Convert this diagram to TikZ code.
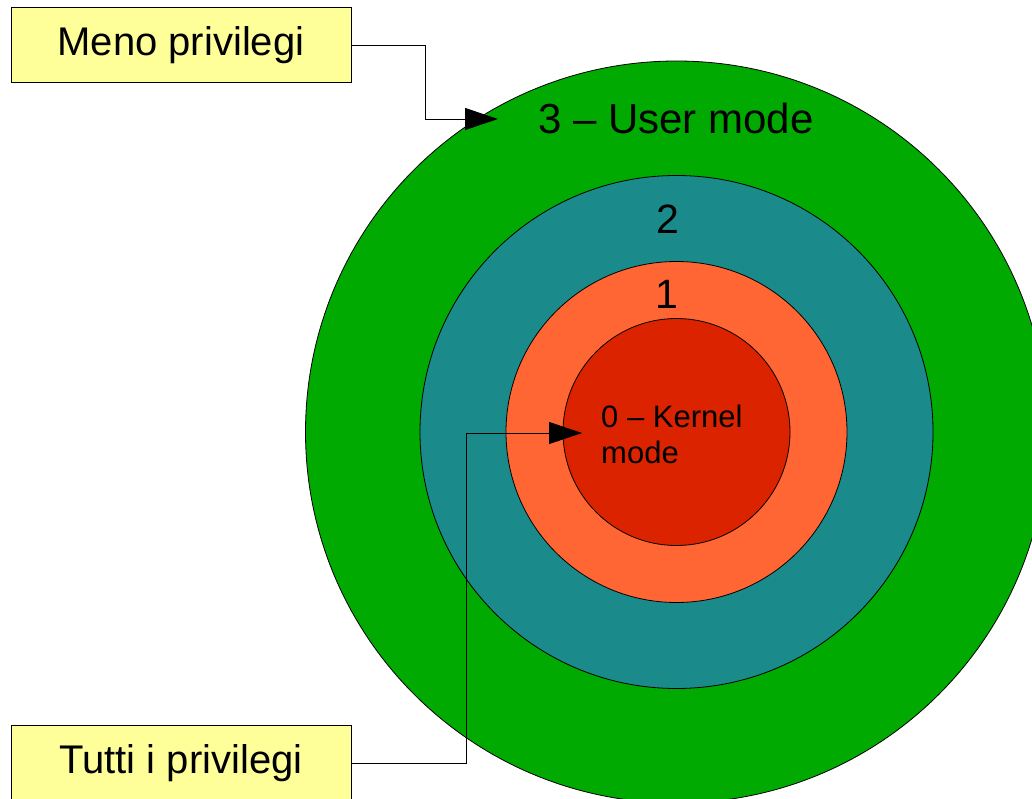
\documentclass[tikz,border=0pt]{standalone}
\usepackage{fontspec}
\setmainfont{Liberation Sans}
\usetikzlibrary{arrows.meta}

\definecolor{ringthree}{HTML}{00AA00}
\definecolor{ringtwo}{HTML}{1B8A8A}
\definecolor{ringone}{HTML}{FF6633}
\definecolor{ringzero}{HTML}{DC2300}
\definecolor{notefill}{HTML}{FFFF99}

\tikzset{
  ring/.style={circle, draw=black, line width=0.8pt, inner sep=0pt},
  notebox/.style={draw=black, line width=0.8pt, fill=notefill,
    minimum width=340pt, minimum height=75pt, inner sep=0pt,
    font=\fontsize{40}{48}\selectfont},
  ringlabel/.style={inner sep=0pt, anchor=base},
  pointer/.style={draw=black, line width=0.9pt,
    -{Triangle[length=33pt,width=22pt]}},
}

\begin{document}
\begin{tikzpicture}[x=1pt,y=-1pt]
  \clip (0,0) rectangle (1032,799);
  \fill[white] (0,0) rectangle (1032,799);

  % concentric privilege rings
  \node[ring, fill=ringthree, minimum size=742pt] (r3) at (676.5,432) {};
  \node[ring, fill=ringtwo,   minimum size=513pt] (r2) at (676.5,432) {};
  \node[ring, fill=ringone,   minimum size=341pt] (r1) at (676.5,432) {};
  \node[ring, fill=ringzero,  minimum size=227pt] (r0) at (676.5,432) {};

  % ring labels
  \node[ringlabel, font=\fontsize{42}{50}\selectfont] (l3) at (676,134) {3 – User mode};
  \node[ringlabel, font=\fontsize{41}{49}\selectfont] (l2) at (668,234) {2};
  \node[ringlabel, font=\fontsize{41}{49}\selectfont] (l1) at (667,308) {1};
  \node[inner sep=0pt, anchor=base west, align=left,
        font=\fontsize{31}{36}\selectfont] (l0) at (601,463) {0 – Kernel\\mode};

  % side notes
  \node[notebox] (less) at (181,45) {Meno privilegi};
  \node[notebox] (all)  at (181,763) {Tutti i privilegi};

  % pointers into the rings
  \coordinate (tip3) at (498,119);
  \coordinate (tip0) at (582,433);
  \draw[pointer] (less.east) -| (425,119) -- (tip3);
  \draw[pointer] (all.east) -| (466,433) -- (tip0);
\end{tikzpicture}
\end{document}
